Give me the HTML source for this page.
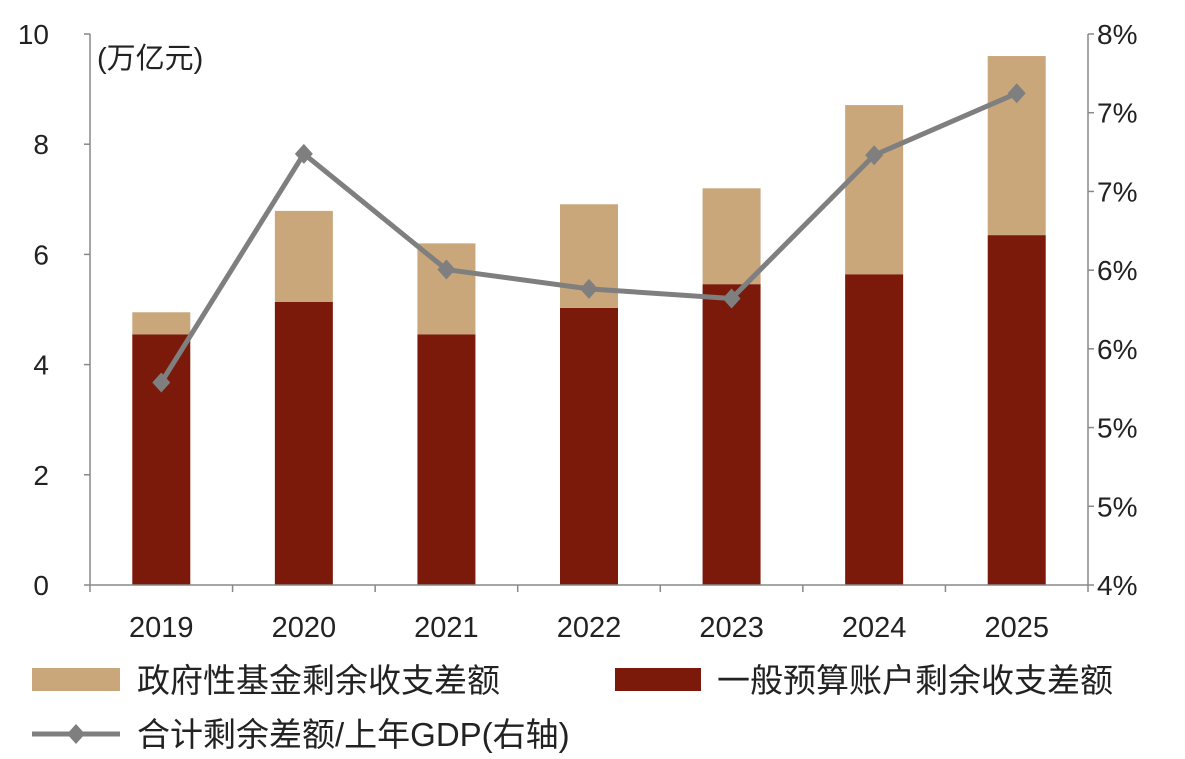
<!DOCTYPE html>
<html><head><meta charset="utf-8"><style>
body{margin:0;background:#fff;}
svg{display:block;font-family:"Liberation Sans","Noto Sans CJK SC",sans-serif;}
</style></head><body>
<svg id="chart" width="1185" height="759" viewBox="0 0 1185 759"></svg>
<script>
const categories=["2019","2020","2021","2022","2023","2024","2025"];
const generalBudget=[4.55,5.14,4.55,5.03,5.46,5.64,6.35];
const govFund=[0.40,1.65,1.65,1.88,1.74,3.07,3.25];
const ratioPct=[5.47,7.13,6.29,6.15,6.08,7.12,7.57];
const leftTicks=[0,2,4,6,8,10];
const rightTickLabels=["4%","5%","5%","6%","6%","7%","7%","8%"];

const svg=document.getElementById('chart');
const NS="http://www.w3.org/2000/svg";
const X0=90,X1=1088,Y0=585,Y1=34;
const yL=v=>Y0-(v/10)*(Y0-Y1);
const yR=p=>Y0-((p-4)/4)*(Y0-Y1);
const band=(X1-X0)/categories.length;
const xC=i=>X0+band*(i+0.5);
function mk(tag,attrs,name,txt){const e=document.createElementNS(NS,tag);for(const k in attrs)e.setAttribute(k,attrs[k]);


if(txt!==undefined)e.textContent=txt;svg.appendChild(e);return e;}

categories.forEach((c,i)=>{
  const w=58,x=xC(i)-w/2;
  mk('rect',{x:x,y:yL(generalBudget[i]),width:w,height:Y0-yL(generalBudget[i]),fill:'#7B1A0A'},'bar-general-'+c);
  mk('rect',{x:x,y:yL(generalBudget[i]+govFund[i]),width:w,height:yL(generalBudget[i])-yL(generalBudget[i]+govFund[i]),fill:'#C9A77B'},'bar-fund-'+c);
});
mk('line',{x1:X0,y1:Y1,x2:X0,y2:Y0,stroke:'#888','stroke-width':1.5},'left-axis');
mk('line',{x1:X1,y1:Y1,x2:X1,y2:Y0,stroke:'#888','stroke-width':1.5},'right-axis');
mk('line',{x1:X0,y1:Y0,x2:X1,y2:Y0,stroke:'#888','stroke-width':1.5},'x-axis');
leftTicks.forEach(v=>{
  mk('line',{x1:X0-6,y1:yL(v),x2:X0,y2:yL(v),stroke:'#888','stroke-width':1.5},'left-tick');
  mk('text',{x:49,y:yL(v)+10,'font-size':28,'text-anchor':'end',fill:'#222'},'left-tick-label',String(v));
});
rightTickLabels.forEach((t,i)=>{
  const y=Y0-i*(Y0-Y1)/(rightTickLabels.length-1);
  mk('line',{x1:X1,y1:y,x2:X1+6,y2:y,stroke:'#888','stroke-width':1.5},'right-tick');
  mk('text',{x:1097,y:y+10,'font-size':28,fill:'#222'},'right-tick-label',t);
});
for(let i=0;i<=categories.length;i++){
  mk('line',{x1:X0+band*i,y1:Y0,x2:X0+band*i,y2:Y0+7,stroke:'#888','stroke-width':1.5},'x-tick');
}
categories.forEach((c,i)=>mk('text',{x:xC(i),y:637,'font-size':29,'text-anchor':'middle',fill:'#222'},'x-tick-label',c));
mk('text',{x:97,y:68,'font-size':29,fill:'#222'},'unit-label','(万亿元)');
mk('polyline',{points:ratioPct.map((p,i)=>xC(i)+','+yR(p)).join(' '),fill:'none',stroke:'#7F7F7F','stroke-width':5,'stroke-linejoin':'round'},'ratio-line');
ratioPct.forEach((p,i)=>{const x=xC(i),y=yR(p);
  mk('polygon',{points:`${x},${y-10} ${x+9},${y} ${x},${y+10} ${x-9},${y}`,fill:'#7F7F7F'},'ratio-point-'+categories[i]);});
mk('rect',{x:32,y:668,width:88,height:23,fill:'#C9A77B'},'legend-swatch-fund');
mk('text',{x:137,y:692,'font-size':33,fill:'#222'},'legend-label-fund','政府性基金剩余收支差额');
mk('rect',{x:615,y:668,width:86,height:23,fill:'#7B1A0A'},'legend-swatch-general');
mk('text',{x:717,y:692,'font-size':33,fill:'#222'},'legend-label-general','一般预算账户剩余收支差额');
mk('line',{x1:32,y1:734,x2:120,y2:734,stroke:'#7F7F7F','stroke-width':5},'legend-swatch-ratio');
mk('polygon',{points:'76,724 85,734 76,744 67,734',fill:'#7F7F7F'},'legend-marker-ratio');
mk('text',{x:137,y:746,'font-size':33,fill:'#222'},'legend-label-ratio','合计剩余差额/上年GDP(右轴)');
</script>
</body></html>
